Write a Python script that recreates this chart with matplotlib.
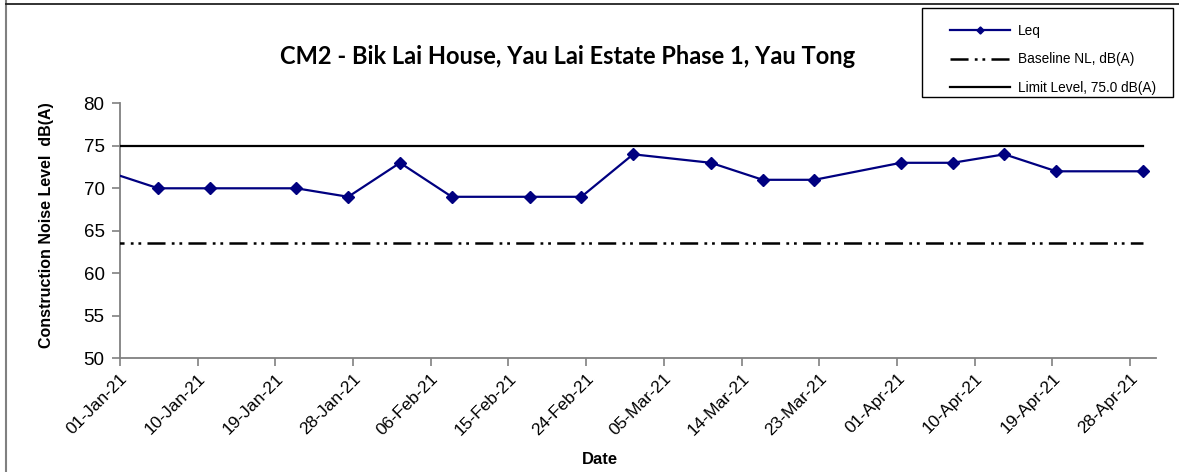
import matplotlib
matplotlib.use("Agg")
import matplotlib.pyplot as plt
import matplotlib.dates as mdates
from matplotlib.patches import Rectangle
from datetime import datetime, timedelta

#########################
# DATA
#########################

DATES = ["2020-12-30", "2021-01-05", "2021-01-11", "2021-01-21", "2021-01-27",
         "2021-02-02", "2021-02-08", "2021-02-17", "2021-02-23", "2021-03-01",
         "2021-03-10", "2021-03-16", "2021-03-22", "2021-04-01", "2021-04-07",
         "2021-04-13", "2021-04-19", "2021-04-29"]
LEQ = [72, 70, 70, 70, 69, 73, 69, 69, 69, 74, 73, 71, 71, 73, 73, 74, 72, 72]
BASELINE = 63.6
LIMIT = 75.0

TITLE = "CM2 - Bik Lai House, Yau Lai Estate Phase 1, Yau Tong"
LABELS = ["Leq", "Baseline NL, dB(A)", "Limit Level, 75.0 dB(A)"]

#########################
# PLOT
#########################

plt.rcParams["font.family"] = ["Liberation Sans", "DejaVu Sans"]
plt.rcParams["lines.scale_dashes"] = False

W, H = 1179, 472
fig = plt.figure(figsize=(W / 100, H / 100), dpi=100)
ax = fig.add_axes([119.8 / W, 1 - 358.3 / H, (1156 - 119.8) / W, (358.3 - 103.3) / H])

# measurements were taken late morning
x = [datetime.strptime(d, "%Y-%m-%d") + timedelta(hours=10.8) for d in DATES]
base = [BASELINE] * len(x)
limit = [LIMIT] * len(x)

l1, = ax.plot(x, LEQ, color="#000080", lw=1.6, marker="D", ms=6,
              mec="#000080", mfc="#000080", zorder=4)
l2, = ax.plot(x, base, color="black", lw=1.8,
              dashes=(13, 4.5, 2, 3.5, 2, 4.5), zorder=3)
l3, = ax.plot(x, limit, color="black", lw=1.6, zorder=3)

ax.set_xlim(datetime(2021, 1, 1), datetime(2021, 5, 1))
ax.set_ylim(50, 80)
ax.set_yticks(range(50, 81, 5))
ticks = [datetime(2021, 1, 1) + timedelta(days=9 * i) for i in range(14)]
ax.set_xticks(ticks)
ax.xaxis.set_major_formatter(mdates.DateFormatter("%d-%b-%y"))

for s in ["top", "right"]:
    ax.spines[s].set_visible(False)
for s in ["left", "bottom"]:
    ax.spines[s].set_color("#808080")
    ax.spines[s].set_linewidth(1.3)
ax.tick_params(axis="both", direction="out", length=6, width=1.2,
               color="#808080", labelsize=13.5)
ax.tick_params(axis="y", pad=5)
ax.tick_params(axis="x", labelsize=12.5, pad=3)
for lab in ax.get_xticklabels():
    lab.set_rotation(45)
    lab.set_ha("right")
    lab.set_va("top")
    lab.set_rotation_mode("anchor")

fig.text(568 / W, 1 - 57 / H, TITLE, fontsize=17, fontweight="bold",
         family=["Lato", "DejaVu Sans"], ha="center", va="center")
fig.text(47 / W, 1 - 225 / H, "Construction Noise Level  dB(A)", fontsize=11.5,
         fontweight="bold", rotation=90, ha="center", va="center")
fig.text(600 / W, 1 - 459 / H, "Date", fontsize=12, fontweight="bold",
         ha="center", va="center")

# outer chart frame
fig.add_artist(plt.Line2D([5.5 / W, 5.5 / W], [0, 1], color="#808080", lw=1.5,
                          transform=fig.transFigure))
fig.add_artist(plt.Line2D([5.5 / W, 1], [1 - 4 / H, 1 - 4 / H], color="#222222",
                          lw=1.3, transform=fig.transFigure))

# legend box
fig.add_artist(Rectangle((922 / W, 1 - 97 / H), 251 / W, 89 / H, fill=False,
                         edgecolor="black", lw=1.0, transform=fig.transFigure))
leg = fig.legend([l1, l2, l3], LABELS, loc="upper left",
                 bbox_to_anchor=(950 / W, 1 - 24 / H), frameon=False,
                 fontsize=9.8, handlelength=4.4, handletextpad=0.6,
                 labelspacing=1.05, markerscale=0.6, borderpad=0,
                 borderaxespad=0)

fig.savefig("out.png", dpi=100)
